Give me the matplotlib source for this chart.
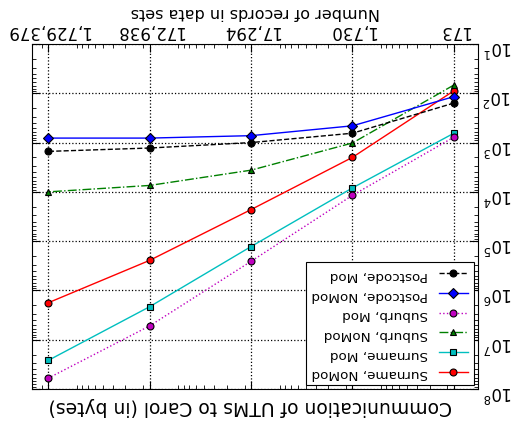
import matplotlib
matplotlib.use('Agg')
import matplotlib.pyplot as plt
from matplotlib.ticker import NullFormatter

# x: number of records, y: bytes sent to Carol (log-log)
records = [173, 1730, 17294, 172938, 1729379]
record_labels = ['173', '1,730', '17,294', '172,938', '1,729,379']

surname_nomod = [89, 1995, 22900, 245500, 1780000]
surname_mod = [646, 8320, 128800, 2140000, 26300000]
suburb_nomod = [68, 1020, 3630, 7410, 10000]
suburb_mod = [776, 11750, 257000, 5250000, 60300000]
postcode_nomod = [117, 457, 724, 811, 811]
postcode_mod = [158, 646, 1000, 1290, 1510]

fig = plt.figure(figsize=(5.17, 4.27), dpi=100)
fig.patch.set_facecolor('white')
ax = fig.add_axes([32 / 517, 37 / 427, 446 / 517, 345 / 427])

# (label, values, color, linestyle, marker)
series = [
    ('Surname, NoMod', surname_nomod, 'r', '-', 'o'),
    ('Surname, Mod', surname_mod, 'c', '-', 's'),
    ('Suburb, NoMod', suburb_nomod, 'g', '-.', '^'),
    ('Suburb, Mod', suburb_mod, 'm', ':', 'o'),
    ('Postcode, NoMod', postcode_nomod, 'b', '-', 'D'),
    ('Postcode, Mod', postcode_mod, 'k', '--', 'o'),
]

handles = []
for label, vals, color, ls, mk in series:
    h, = ax.plot(records, vals, color=color, linestyle=ls, marker=mk,
                 markersize=5, markeredgecolor='k', markeredgewidth=0.8,
                 linewidth=1, label=label)
    handles.append(h)

ax.set_xscale('log')
ax.set_yscale('log')
# whole chart is shown upside down
ax.set_xlim(2.5e6, 100)
ax.set_ylim(1e8, 1e1)

ax.set_xticks(records)
ax.set_xticklabels(record_labels)
ax.xaxis.set_minor_formatter(NullFormatter())
ax.yaxis.set_minor_formatter(NullFormatter())

ax.tick_params(which='both', direction='in', top=True, bottom=True,
               left=True, right=True, labeltop=True, labelbottom=False,
               labelright=True, labelleft=False, labelrotation=180,
               labelsize=12)
ax.tick_params(which='major', length=6)
ax.tick_params(which='minor', length=3)

ax.grid(True, which='major', color='k', linestyle=':', linewidth=0.9)

ax.xaxis.set_label_position('top')
ax.set_xlabel('Number of records in data sets', fontsize=11.5, rotation=180)
ax.text(0.49, -0.02, 'Communication of UTMs to Carol (in bytes)',
        transform=ax.transAxes, rotation=180, ha='center', va='top',
        fontsize=13.5)

leg = ax.legend(handles[::-1], [h.get_label() for h in handles[::-1]],
                loc='lower right', bbox_to_anchor=(0.99, 0.012),
                borderaxespad=0, markerfirst=False, fontsize=9.7,
                fancybox=False, framealpha=1, edgecolor='k',
                handlelength=2.2, labelspacing=0.5, numpoints=1)
leg.get_frame().set_linewidth(0.8)
for t in leg.get_texts():
    t.set_rotation(180)

fig.savefig('out.png', dpi=100)
